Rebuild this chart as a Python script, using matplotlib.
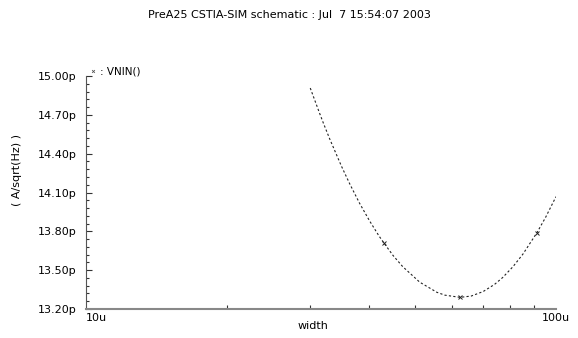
import numpy as np
import matplotlib
matplotlib.use("Agg")
import matplotlib.pyplot as plt
from matplotlib.lines import Line2D

# width sweep (in u) and noise (in p A/sqrt(Hz))
width_u = [30.0, 31.4, 32.0, 33.0, 34.7, 35.0, 36.4, 38.2, 40.1, 42.0, 43.1, 45.0,
           47.2, 51.3, 55.8, 58.0, 62.5, 66.0, 70.0, 74.0, 77.0, 81.0, 85.0,
           91.1, 95.0, 100.0]
vnin_p = [14.907, 14.713, 14.635, 14.514, 14.33, 14.299, 14.167, 14.017, 13.882,
          13.765, 13.707, 13.614, 13.527, 13.407, 13.329, 13.307, 13.29, 13.30,
          13.335, 13.39, 13.443, 13.527, 13.623, 13.79, 13.907, 14.068]

mark_x = [43.1, 62.5, 91.1]
mark_y = [13.707, 13.29, 13.79]

y_ticks = [13.2, 13.5, 13.8, 14.1, 14.4, 14.7, 15.0]
x_ticks = [10, 100]
x_labels = ["10u", "100u"]

title = "PreA25 CSTIA-SIM schematic : Jul  7 15:54:07 2003"

plt.rcParams["font.family"] = ["DejaVu Sans"]
plt.rcParams["font.size"] = 8

fig = plt.figure(figsize=(5.78, 3.38), dpi=100)
ax = fig.add_axes([86 / 578, 1 - 309 / 338, 470 / 578, 233 / 338])

ax.plot(width_u, vnin_p, color="#222222", lw=0.8, dashes=(2, 2))
ax.plot(mark_x, mark_y, ls="none", marker="x", ms=2.5, mew=0.7, color="#222222")

ax.set_xscale("log")
ax.set_xlim(10, 100)
ax.set_ylim(13.2, 15.0)

ax.set_xticks(x_ticks)
ax.set_xticklabels(x_labels)
ax.set_xticks([20, 30, 40, 50, 60, 70, 80, 90], minor=True)
ax.xaxis.set_minor_formatter(plt.NullFormatter())
labs = ax.get_xticklabels()
labs[0].set_horizontalalignment("left")
labs[-1].set_horizontalalignment("center")

ax.set_yticks(y_ticks)
ax.set_yticklabels([f"{v:.2f}p" for v in y_ticks])
ax.set_yticks(np.arange(13.2, 15.0001, 0.06), minor=True)

ax.tick_params(axis="both", which="both", direction="in", color="#333333", width=0.8)
ax.tick_params(axis="x", which="major", length=0, pad=3)
ax.tick_params(axis="x", which="minor", length=3)
ax.tick_params(axis="y", which="major", length=4, pad=7)
ax.tick_params(axis="y", which="minor", length=2)

for s in ["top", "right"]:
    ax.spines[s].set_visible(False)
ax.spines["left"].set_color("#555555")
ax.spines["bottom"].set_color("#888888")
ax.spines["left"].set_linewidth(0.8)
ax.spines["bottom"].set_linewidth(1.5)

fig.text(0.5, 1 - 15 / 338, title, ha="center", va="center")
fig.text(100 / 578, 1 - 72 / 338, ": VNIN()", ha="left", va="center", fontsize=7.5)
fig.add_artist(Line2D([93 / 578], [1 - 71 / 338], marker="x", ms=2, mew=0.6,
                      color="#555555", transform=fig.transFigure))
fig.text(17 / 578, 1 - 170 / 338, "( A/sqrt(Hz) )", rotation=90, ha="center", va="center")
fig.text(313 / 578, 1 - 326 / 338, "width", ha="center", va="center")

fig.savefig("out.png", dpi=100, facecolor="white")
